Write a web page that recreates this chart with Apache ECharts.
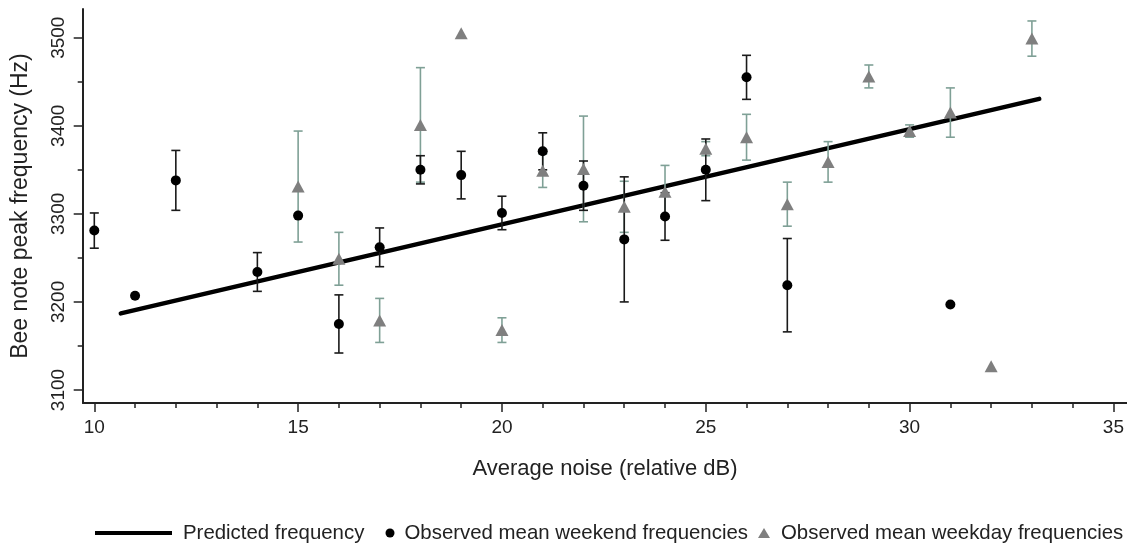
<!DOCTYPE html>
<html>
<head>
<meta charset="utf-8">
<script src="https://cdn.jsdelivr.net/npm/echarts@6/dist/echarts.min.js"></script>
<style>html,body{margin:0;padding:0;background:#fff}#c{width:1127px;height:546px}</style>
</head>
<body>
<div id="c"></div>
<script>
// ---- data ----
const weekendNoise = [10, 11, 12, 14, 15, 16, 17, 18, 19, 20, 21, 22, 23, 24, 25, 26, 27, 31];
const weekendMean  = [3281, 3207, 3338, 3234, 3298, 3175, 3262, 3350, 3344, 3301, 3371, 3332, 3271, 3297, 3350, 3455, 3219, 3197];
const weekendErr   = [20, null, 34, 22, null, 33, 22, 16, 27, 19, 21, 28, 71, 27, 35, 25, 53, null];

const weekdayNoise = [15, 16, 17, 18, 19, 20, 21, 22, 23, 24, 25, 26, 27, 28, 29, 30, 31, 32, 33];
const weekdayMean  = [3331, 3249, 3179, 3401, 3505, 3168, 3349, 3351, 3308, 3325, 3374, 3387, 3311, 3359, 3456, 3394, 3415, 3127, 3499];
const weekdayErr   = [63, 30, 25, 65, null, 14, 19, 60, 29, 30, 8, 26, 25, 23, 13, 7, 28, null, 20];

const predNoise = [10.65, 33.18];
const predFreq  = [3187, 3430.5];

const xTicks = [10, 15, 20, 25, 30, 35];
const yTicks = [3100, 3200, 3300, 3400, 3500];

const names = ['Predicted frequency', 'Observed mean weekend frequencies', 'Observed mean weekday frequencies'];

// ---- build series data ----
const weekendPts = weekendNoise.map((x, i) => [x, weekendMean[i]]);
const weekdayPts = weekdayNoise.map((x, i) => [x, weekdayMean[i]]);
const weekendBars = weekendNoise.map((x, i) => weekendErr[i] == null ? null : [x, weekendMean[i] - weekendErr[i], weekendMean[i] + weekendErr[i]]).filter(Boolean);
const weekdayBars = weekdayNoise.map((x, i) => weekdayErr[i] == null ? null : [x, weekdayMean[i] - weekdayErr[i], weekdayMean[i] + weekdayErr[i]]).filter(Boolean);
const predLine = predNoise.map((x, i) => [x, predFreq[i]]);

const FONT = 'Liberation Sans, Arial, sans-serif';
const TXT = '#222';
const TEAL = '#7fa096';
const GRAY = '#7f7f7f';

function errRender(color) {
  return function (params, api) {
    const x = api.value(0), lo = api.value(1), hi = api.value(2);
    const p1 = api.coord([x, hi]);
    const p2 = api.coord([x, lo]);
    const w = 4.5;
    const style = { stroke: color, lineWidth: 1.6, fill: null };
    return {
      type: 'group',
      children: [
        { type: 'line', shape: { x1: p1[0], y1: p1[1], x2: p2[0], y2: p2[1] }, style: style },
        { type: 'line', shape: { x1: p1[0] - w, y1: p1[1], x2: p1[0] + w, y2: p1[1] }, style: style },
        { type: 'line', shape: { x1: p2[0] - w, y1: p2[1], x2: p2[0] + w, y2: p2[1] }, style: style }
      ]
    };
  };
}

const chart = echarts.init(document.getElementById('c'), null, { renderer: 'canvas' });

const axisCommonLine = { lineStyle: { color: '#222', width: 2 } };

chart.setOption({
  animation: false,
  backgroundColor: '#fff',
  textStyle: { fontFamily: FONT, color: TXT },
  grid: [
    { left: 94.3, right: 13, top: 37.7, bottom: 156 },   // data grid
    { left: 83, right: 0, top: 9, bottom: 143 }          // frame (axis lines + titles)
  ],
  xAxis: [
    {
      gridIndex: 0, type: 'value', min: xTicks[0], max: xTicks[xTicks.length - 1], interval: 5,
      offset: 13,
      axisLine: { show: false, onZero: false },
      axisTick: { show: true, length: 9, lineStyle: { color: '#222', width: 1.5 } },
      minorTick: { show: true, splitNumber: 5, length: 5, lineStyle: { color: '#222', width: 1.5 } },
      axisLabel: { fontSize: 19, color: TXT, fontFamily: FONT, margin: 15, formatter: v => String(v) },
      splitLine: { show: false }
    },
    {
      gridIndex: 1, type: 'value', min: 0, max: 1,
      axisLine: Object.assign({ show: true, onZero: false }, axisCommonLine),
      axisTick: { show: false }, axisLabel: { show: false }, splitLine: { show: false },
      name: 'Average noise (relative dB)', nameLocation: 'middle', nameGap: 55,
      nameTextStyle: { fontSize: 22, color: TXT, fontFamily: FONT }
    }
  ],
  yAxis: [
    {
      gridIndex: 0, type: 'value', min: yTicks[0], max: yTicks[yTicks.length - 1], interval: 100,
      offset: 11.6,
      axisLine: { show: false, onZero: false },
      axisTick: { show: true, length: 9, lineStyle: { color: '#222', width: 1.5 } },
      minorTick: { show: true, splitNumber: 2, length: 5, lineStyle: { color: '#222', width: 1.5 } },
      axisLabel: { fontSize: 19, color: TXT, fontFamily: FONT, margin: 14, rotate: 90, formatter: v => String(v) },
      splitLine: { show: false }
    },
    {
      gridIndex: 1, type: 'value', min: 0, max: 1,
      axisLine: Object.assign({ show: true, onZero: false }, axisCommonLine),
      axisTick: { show: false }, axisLabel: { show: false }, splitLine: { show: false },
      name: 'Bee note peak frequency (Hz)', nameLocation: 'middle', nameGap: 51,
      nameTextStyle: { fontSize: 23, color: TXT, fontFamily: FONT }
    }
  ],
  legend: [
    {
      data: [{ name: names[0], icon: 'rect' }], left: 95, top: 523, padding: 0,
      itemWidth: 77, itemHeight: 4,
      textStyle: { fontSize: 20.4, color: TXT, fontFamily: FONT, padding: [0, 0, 0, 6] }
    },
    {
      data: [{ name: names[1], icon: 'circle' }], left: 385.5, top: 523, padding: 0,
      itemWidth: 9, itemHeight: 9,
      textStyle: { fontSize: 20.4, color: TXT, fontFamily: FONT, padding: [0, 0, 0, 5] }
    },
    {
      data: [{ name: names[2], icon: 'triangle' }], left: 758, top: 523, padding: 0,
      itemWidth: 12, itemHeight: 10,
      textStyle: { fontSize: 20.4, color: TXT, fontFamily: FONT, padding: [0, 0, 0, 6] }
    }
  ],
  series: [
    {
      name: names[0], type: 'line', xAxisIndex: 0, yAxisIndex: 0,
      data: predLine, symbol: 'none', z: 2,
      lineStyle: { color: '#000', width: 4.5, cap: 'round' },
      itemStyle: { color: '#000' }
    },
    {
      name: 'weekday-err', type: 'custom', xAxisIndex: 0, yAxisIndex: 0,
      data: weekdayBars, renderItem: errRender(TEAL), z: 3, silent: true,
      encode: { x: 0, y: [1, 2] }
    },
    {
      name: 'weekend-err', type: 'custom', xAxisIndex: 0, yAxisIndex: 0,
      data: weekendBars, renderItem: errRender('#1a1a1a'), z: 3, silent: true,
      encode: { x: 0, y: [1, 2] }
    },
    {
      name: names[2], type: 'scatter', xAxisIndex: 0, yAxisIndex: 0,
      data: weekdayPts, symbol: 'triangle', symbolSize: [13, 12], clip: false, z: 4,
      itemStyle: { color: GRAY, opacity: 1 }
    },
    {
      name: names[1], type: 'scatter', xAxisIndex: 0, yAxisIndex: 0,
      data: weekendPts, symbol: 'circle', symbolSize: 10, clip: false, z: 5,
      itemStyle: { color: '#000', opacity: 1 }
    }
  ]
});
</script>
</body>
</html>
